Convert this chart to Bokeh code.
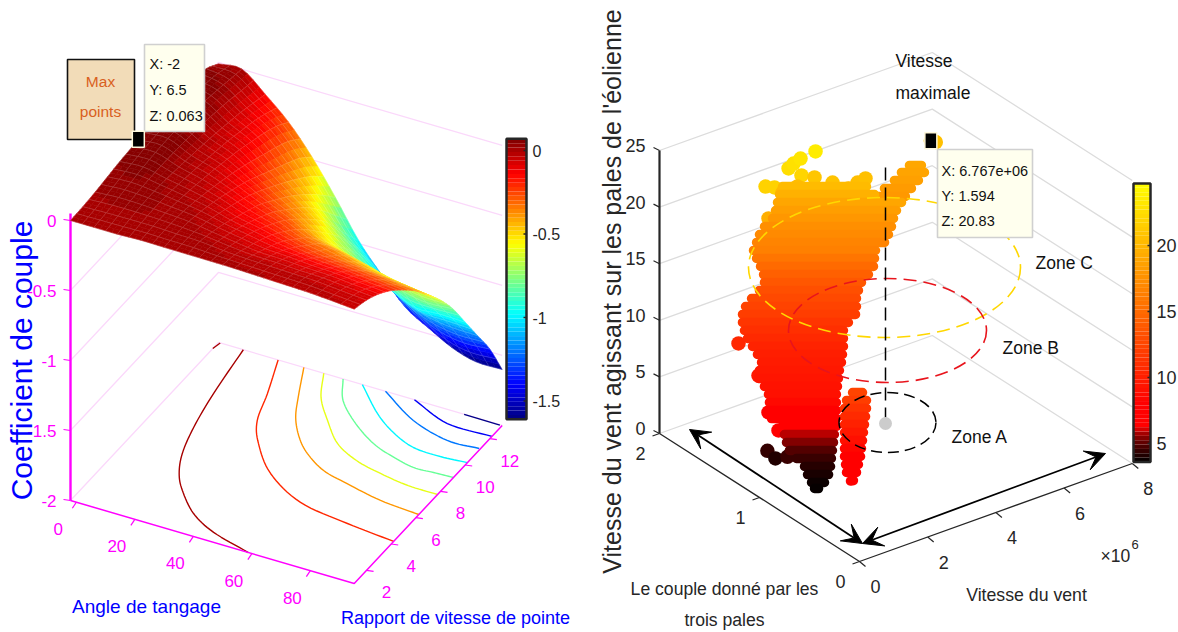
import numpy as np
from bokeh.plotting import figure
from bokeh.models import Range1d, Arrow, VeeHead
from bokeh.core.properties import value
from bokeh.embed import file_html
from bokeh.resources import INLINE

# ---------- left chart data ----------
SURF_X = [-2, 6, 14, 22, 30, 38, 46, 54, 62, 70, 78, 86, 95]      # angle de tangage
SURF_Y = [1, 2, 3, 4, 5, 6, 7, 8, 9, 10, 11, 12, 13]              # rapport de vitesse
SURF_Z_BY_X = [
    [0, .005, .015, .03, .045, .055, .063, .07, .075, .075, .07, .05, -.01],
    [0, .01, .025, .04, .055, .065, .07, .07, .065, .055, .04, .02, .002],
    [0, .012, .022, .025, .02, .01, -.002, -.015, -.03, -.05, -.07, -.1, -.13],
    [.006, .012, .012, .003, -.012, -.03, -.05, -.075, -.1, -.135, -.17, -.215, -.28],
    [.004, .006, 0, -.02, -.05, -.085, -.125, -.17, -.225, -.28, -.335, -.395, -.48],
    [.003, .001, -.025, -.06, -.105, -.15, -.2, -.27, -.34, -.42, -.51, -.61, -.72],
    [.002, -.015, -.05, -.09, -.14, -.2, -.27, -.355, -.45, -.555, -.69, -.84, -.98],
    [0, -.025, -.07, -.12, -.18, -.26, -.345, -.455, -.58, -.705, -.835, -.985, -1.18],
    [-.005, -.03, -.075, -.135, -.215, -.295, -.375, -.5, -.645, -.81, -.965, -1.135, -1.36],
    [-.01, -.035, -.085, -.15, -.23, -.32, -.42, -.54, -.71, -.9, -1.08, -1.26, -1.46],
    [-.015, -.04, -.09, -.16, -.245, -.34, -.46, -.585, -.77, -.98, -1.14, -1.34, -1.55],
    [-.025, -.055, -.105, -.175, -.26, -.36, -.48, -.615, -.8, -.975, -1.165, -1.37, -1.6],
    [-.04, -.07, -.12, -.19, -.28, -.38, -.505, -.635, -.79, -.98, -1.17, -1.36, -1.6],
]
CONTOUR_LEVELS = [0, 0, -.2, -.4, -.6, -.8, -1, -1.2, -1.4, -1.6]
CONTOUR_X = [
    [-2, -1.4],
    [6.5, 9.5, 12.7, 16.2, 20.4, 25.5, 34.3, 44.4, 58.8],
    [18.4, 24, 28.1, 34.1, 44.9, 60.2, 78.1, 95],
    [27.2, 32.8, 37.6, 43.6, 49.8, 58.4, 68, 81.2, 95],
    [34, 39.4, 46.9, 55.3, 64.7, 74.4, 84.9, 95],
    [40.6, 46.1, 55.2, 65, 73.3, 81.7, 88.4, 95],
    [47.2, 58.5, 67.6, 76.7, 86.2, 95],
    [55.1, 69.9, 84, 94.6],
    [65, 79.8, 95],
    [82, 94.3],
]
CONTOUR_Y = [
    [12.54, 13],
    [13, 9.87, 7.5, 5.75, 4.5, 3.55, 2.37, 1.6, 1],
    [13, 10.8, 9, 7.68, 6.1, 4.9, 4.46, 4.2],
    [13, 11.24, 9.87, 8.74, 7.93, 7.2, 6.83, 6.41, 6.24],
    [13, 11.5, 10.25, 9.06, 8.37, 8.02, 7.78, 7.76],
    [13, 11.7, 10.56, 9.68, 9.24, 8.95, 9, 9.05],
    [13, 11.54, 10.68, 10.14, 10.07, 10.18],
    [13, 11.75, 11.15, 11.23],
    [13, 12.16, 12.17],
    [13, 12.98],
]
L_X_TICKS = [0, 20, 40, 60, 80]
L_Y_TICKS = [2, 4, 6, 8, 10, 12]
L_Z_TICKS = [0, -.5, -1, -1.5, -2]
L_Z_LABELS = ["0", "-0.5", "-1", "-1.5", "-2"]
L_BAR_TICKS = [0, -.5, -1, -1.5]
L_BAR_LABELS = ["0", "-0.5", "-1", "-1.5"]
L_BAR_MIN, L_BAR_MAX = -1.61, .07

# ---------- right chart data ----------
# spans of the dense cloud: z level, then both ends (x in 1e6, y)
ROW_Z = [20.3, 19.6, 18.9, 18.4, 17.9, 17.4, 17.1, 16.7, 16.4, 15.7, 15.0, 14.3, 13.7, 13.2, 12.8, 12.4, 12.0, 11.5, 11.1,
         10.7, 10.3, 10.0, 9.8, 9.6, 9.4, 9.2, 9.1, 8.6, 8.0, 7.4, 6.9, 5.95, 5.4, 4.9, 4.5, 4.2, 4.0, 3.8, 3.7]
ROW_X0 = [2.816, 2.757, 2.719, 2.610, 2.487, 2.266, 2.037, 1.882, 1.689, 1.744, 1.816, 1.869, 1.852, 1.691, 1.438, 1.223, 1.067, .996, .931,
          .888, .879, .837, .746, .538, .351, .297, .169, .118, .083, .085, .224, .340, .328, .314, .346, .361, .247, .156, .068]
ROW_Y0 = [1.730, 1.740, 1.747, 1.730, 1.718, 1.723, 1.695, 1.671, 1.636, 1.624, 1.609, 1.597, 1.582, 1.577, 1.570, 1.557, 1.534, 1.510, 1.468,
          1.423, 1.370, 1.306, 1.234, 1.184, 1.130, 1.052, .968, .941, .929, .909, .847, .867, .842, .808, .749, .673, .604, .533, .473]
ROW_X1 = [4.393, 4.541, 5.048, 4.883, 4.760, 4.651, 4.460, 4.286, 3.980, 3.960, 3.938, 3.841, 3.674, 3.550, 3.410, 3.308, 3.189, 2.986, 2.791,
          2.691, 2.588, 2.434, 2.248, 2.040, 1.854, 1.668, 1.446, 1.376, 1.341, 1.306, 1.238, 1.279, 1.211, 1.122, 1.003, .849, .642, .400, .143]
ROW_Y1 = [1.428, 1.398, 1.301, 1.295, 1.283, 1.266, 1.231, 1.211, 1.197, 1.200, 1.203, 1.220, 1.233, 1.221, 1.193, 1.158, 1.127, 1.129, 1.112,
          1.078, 1.043, 1.000, .947, .896, .843, .789, .724, .700, .688, .676, .653, .687, .673, .653, .623, .579, .528, .486, .458]
ARM_Z = [19.0, 18.8, 18.5, 18.2, 18.0]
ARM_X0 = [6.251, 5.960, 5.693, 5.371, 5.069]
ARM_Y0 = [1.632, 1.613, 1.592, 1.582, 1.549]
ARM_X1 = [6.476, 6.392, 6.144, 5.878, 5.595]
ARM_Y1 = [1.589, 1.530, 1.506, 1.485, 1.449]
COL_Z = [12.5, 12.0, 11.4, 10.8, 10.2, 9.6, 9.0, 8.4, 7.9, 7.4, 7.0, 6.6]
COL_X0 = [.676, .496, .422, .384, .349, .314, .279, .243, .176, .124, .044, 0]
COL_Y0 = [.300, .299, .294, .281, .269, .257, .245, .233, .210, .182, .145, .090]
COL_X1 = [.863, .871, .836, .779, .725, .671, .617, .563, .477, .368, .232, .072]
COL_Y1 = [.264, .227, .215, .205, .197, .189, .180, .172, .152, .136, .109, .085]
# isolated points
PT_X = [1.998, 2.137, 2.694, 2.867, 3.077, 2.932, 3.400, 1.880, 3.449, 3.705, 4.274, 4.510, 3.065, 2.672, 4.028, 6.767, 6.90,
        .604, .372, .073, 0, .056, .083, .224]
PT_Y = [1.621, 1.579, 1.628, 1.637, 1.639, 1.580, 1.599, 1.551, 1.626, 1.533, 1.477, 1.478, 1.665, 1.681, 1.484, 1.594, 1.59,
        1.416, 1.137, .935, .810, .940, .869, .797]
PT_Z = [21.8, 21.8, 22.6, 22.8, 23.0, 22.0, 23.5, 19.5, 21.0, 20.8, 20.5, 20.6, 20.4, 20.2, 20.2, 20.83, 20.6,
        10.6, 9.6, 7.8, 7.0, 4.4, 4.1, 4.5]
R_X_TICKS = [0, 2, 4, 6, 8]
R_Y_TICKS = [0, 1, 2]
R_Z_TICKS = [0, 5, 10, 15, 20, 25]
R_BAR_TICKS = [5, 10, 15, 20]
R_BAR_MIN, R_BAR_MAX = 3.6, 24.7

SANS = "Liberation Sans"
MAG = "#ff00ff"
INK = "#262626"
BLUE = "#0000ff"
WALL_L = "#fbd8fb"
WALL_R = "#dcdcdc"

p = figure(width=1178, height=632, x_range=Range1d(0, 1178), y_range=Range1d(632, 0),
           output_backend="svg", toolbar_location=None, min_border=0)
p.xaxis.visible = False
p.yaxis.visible = False
p.xgrid.visible = False
p.ygrid.visible = False
p.outline_line_color = None


def label(x, y, t, size=18, color=INK, align="center", angle=0.0):
    p.text([x], [y], text=[t], text_font=value(SANS), text_font_size=f"{size}px", text_color=color,
           text_align=align, text_baseline="middle", angle=angle)


def spline(a, n):
    """Smooth curve drawing (Catmull-Rom) through read values along axis 0."""
    a = np.asarray(a, float)
    pad = np.concatenate([[2 * a[0] - a[1]], a, [2 * a[-1] - a[-2]]])
    out = []
    for i in range(len(a) - 1):
        p0, p1, p2, p3 = pad[i], pad[i + 1], pad[i + 2], pad[i + 3]
        for k in range(n):
            t = k / n
            out.append(.5 * (2 * p1 + (p2 - p0) * t + (2 * p0 - 5 * p1 + 4 * p2 - p3) * t * t
                             + (3 * p1 - p0 - 3 * p2 + p3) * t ** 3))
    out.append(a[-1])
    return np.array(out)


def jet(z):
    t = (np.clip(z, L_BAR_MIN, L_BAR_MAX) - L_BAR_MIN) / (L_BAR_MAX - L_BAR_MIN)
    t = (np.floor(t * 63.999) + .5) / 64
    r = np.clip(1.5 - abs(4 * t - 3), 0, 1)
    g = np.clip(1.5 - abs(4 * t - 2), 0, 1)
    b = np.clip(1.5 - abs(4 * t - 1), 0, 1)
    return "#%02x%02x%02x" % (int(r * 255), int(g * 255), int(b * 255))


def hot(z):
    if z < 6.2:
        return "#%02x0000" % int(np.interp(z, [3.6, 5, 6, 6.2], [0, 90, 190, 255]))
    if z < 8:
        return "#ff0000"
    return "#ff%02x00" % int(np.clip(255 * (z - 8) / 16.7, 0, 255))


def L3(x, y, z):
    x, y, z = np.asarray(x, float), np.asarray(y, float), np.asarray(z, float)
    return 70 + 2.925 * (x + 2) + 12.33 * (y - 1), 500 + .856 * (x + 2) - 13.17 * (y - 1) - 140 * (z + 2)


def R3(x, y, z):
    x, y, z = np.asarray(x, float), np.asarray(y, float), np.asarray(z, float)
    return 859 + 34.1 * x - 100 * y, 561 - 12.25 * x - 64 * y - 11.32 * z


XMIN, XMAX, YMIN, YMAX = -2, 95, 1, 13
# ---------- left: walls ----------
for z in L_Z_TICKS:
    a = L3([XMIN, XMIN, XMAX], [YMIN, YMAX, YMAX], [z, z, z])
    p.line(a[0], a[1], line_color=WALL_L, line_width=1.3)

# ---------- left: floor contours ----------
for lev, cx, cy in zip(CONTOUR_LEVELS, CONTOUR_X, CONTOUR_Y):
    if len(cx) > 2:
        pts = spline(np.column_stack([cx, cy]), 8)
        cx, cy = pts[:, 0], pts[:, 1]
    sx, sy = L3(cx, cy, np.full(len(cx), -2))
    p.line(sx, sy, line_color=jet(lev), line_width=1.4)

# ---------- left: axes ----------
a = L3([XMIN, XMIN, XMAX, XMAX], [YMIN, YMIN, YMIN, YMAX], [.05, -2, -2, -2])
p.line(a[0][:2], a[1][:2], line_color=MAG, line_width=2.4)
p.line(a[0][1:], a[1][1:], line_color=MAG, line_width=1.5)
for z, t in zip(L_Z_TICKS, L_Z_LABELS):
    sx, sy = L3(XMIN, YMIN, z)
    p.segment([sx], [sy], [sx - 7], [sy - 1], line_color=MAG, line_width=1.2)
    label(float(sx) - 14, float(sy), t, 17, MAG, align="right")
for v in L_X_TICKS:
    sx, sy = L3(v, YMIN, -2)
    p.segment([sx], [sy], [sx - 4], [sy + 6], line_color=MAG, line_width=1.2)
    label(float(sx) - 18, float(sy) + 27, str(v), 17, MAG)
for v in L_Y_TICKS:
    sx, sy = L3(XMAX, v, -2)
    p.segment([sx], [sy], [sx + 7], [sy + 1], line_color=MAG, line_width=1.2)
    label(float(sx) + 20, float(sy) + 22, str(v), 17, MAG)

# ---------- left: surface ----------
Zt = np.array(SURF_Z_BY_X, float)
SUB = 4
Zf = spline(spline(Zt, SUB).T, SUB).T        # shading of the read table
Xf = spline(np.array(SURF_X, float), SUB)
Yf = spline(np.array(SURF_Y, float), SUB)
Xg, Yg = np.meshgrid(Xf, Yf, indexing="ij")
Sx, Sy = L3(Xg, Yg, Zf)
nx, ny = Zf.shape
for j0 in range(ny - 3, -1, -2):
    xs, ys, cs = [], [], []
    for j in (j0 + 1, j0):
        for i in range(nx - 1):
            xs.append([Sx[i, j], Sx[i + 1, j], Sx[i + 1, j + 1], Sx[i, j + 1]])
            ys.append([Sy[i, j], Sy[i + 1, j], Sy[i + 1, j + 1], Sy[i, j + 1]])
            cs.append(jet(Zf[i:i + 2, j:j + 2].mean()))
    p.patches(xs, ys, fill_color=cs, line_color=cs, line_width=.6)
    mx, my = [], []
    mx.append(list(Sx[:, j0 + 2])); my.append(list(Sy[:, j0 + 2]))
    mx.append(list(Sx[:, j0])); my.append(list(Sy[:, j0]))
    for i in range(0, nx, 2):
        mx.append(list(Sx[i, j0:j0 + 3])); my.append(list(Sy[i, j0:j0 + 3]))
    p.multi_line(mx, my, line_color="#ffffff", line_alpha=.22, line_width=.6)

# ---------- left: colour bar ----------
lev = np.linspace(L_BAR_MIN, L_BAR_MAX, 65)
by = 150 - lev * 167
p.quad(left=506, right=526, top=by[1:], bottom=by[:-1],
       fill_color=[jet(v) for v in (lev[1:] + lev[:-1]) / 2], line_color=None)
p.quad(left=[506], right=[526], top=[150 - L_BAR_MAX * 167], bottom=[150 - L_BAR_MIN * 167],
       fill_color=None, line_color=INK, line_width=2.5)
for v, t in zip(L_BAR_TICKS, L_BAR_LABELS):
    yy = 150 - v * 167
    p.segment([523], [yy], [526], [yy], line_color=INK, line_width=1.5)
    label(532, yy, t, 16, INK, align="left")

# ---------- left: annotations ----------
p.quad(left=[67], right=[134], top=[59], bottom=[139], fill_color="#f2dcb8", line_color="#111111", line_width=1.6)
label(100, 81, "Max", 15.5, "#d9601e")
label(100, 111, "points", 15.5, "#d9601e")
p.quad(left=[144], right=[204], top=[44], bottom=[131], fill_color="#ffffee", line_color="#d0d0d0", line_width=1.6)
for yy, t in zip([63, 89, 115], ["X: -2", "Y: 6.5", "Z: 0.063"]):
    label(149, yy, t, 14.5, "#111111", align="left")
mx, my = L3(-2, 6.5, .063)
p.quad(left=[float(mx) - 6], right=[float(mx) + 6], top=[float(my) - 8], bottom=[float(my) + 8],
       fill_color="#000000", line_color="#fff8dc", line_width=1.5)
label(21, 360, "Coefficient de couple", 30, BLUE, angle=np.pi / 2)
label(146, 606, "Angle de tangage", 19, BLUE)
label(455, 617, "Rapport de vitesse de pointe", 18, BLUE)

# ---------- right: walls ----------
X8, Y2 = 8, 2
for z in R_Z_TICKS:
    a = R3([0, X8, X8], [Y2, Y2, 0], [z, z, z])
    p.line(a[0], a[1], line_color=WALL_R, line_width=1.3)

# ---------- right: axes ----------
a = R3([0, 0, 0, X8], [Y2, Y2, 0, 0], [25, 0, 0, 0])
p.line(a[0][:2], a[1][:2], line_color=INK, line_width=2.2)
p.line(a[0][1:], a[1][1:], line_color=INK, line_width=1.3)
for v in R_Z_TICKS:
    sx, sy = R3(0, Y2, v)
    p.segment([sx], [sy], [sx - 6], [sy - 3], line_color=INK, line_width=1.2)
    label(645, float(sy) - 5, str(v), 18, INK, align="right")
for v in R_Y_TICKS:
    sx, sy = R3(0, v, 0)
    p.segment([sx], [sy], [sx - 7], [sy + 2.5], line_color=INK, line_width=1.2)
    label(float(sx) - 19, float(sy) + 20, str(v), 18, INK)
for v in R_X_TICKS:
    sx, sy = R3(v, 0, 0)
    p.segment([sx], [sy], [sx + 6], [sy + 5], line_color=INK, line_width=1.2)
    label(float(sx) + 16, float(sy) + 25, str(v), 18, INK)

# ---------- right: cloud ----------
sx, sy = R3(PT_X, PT_Y, PT_Z)
p.scatter(sx, sy, size=14.5, fill_color=[hot(v) for v in PT_Z], line_color=None)
for zz, x0, y0, x1, y1 in ((ARM_Z, ARM_X0, ARM_Y0, ARM_X1, ARM_Y1),
                           (ROW_Z, ROW_X0, ROW_Y0, ROW_X1, ROW_Y1),
                           (COL_Z, COL_X0, COL_Y0, COL_X1, COL_Y1)):
    ax, ay = R3(x0, y0, zz)
    bx, by2 = R3(x1, y1, zz)
    p.multi_line([[u, w] for u, w in zip(ax, bx)], [[u, w] for u, w in zip(ay, by2)],
                 line_color=[hot(v) for v in zz], line_width=9.5, line_cap="round")

# ---------- right: zones and arrows ----------
p.ellipse([884], [267], width=[272], height=[140], fill_color=None, line_color="#ffd700", line_width=1.6, line_dash="13 7")
p.ellipse([887], [330], width=[198], height=[104], fill_color=None, line_color="#e8141c", line_width=1.6, line_dash="13 7")
p.ellipse([887], [422], width=[97], height=[60], fill_color=None, line_color="#000000", line_width=1.5, line_dash="11 6")
p.line([885, 885], [167, 423], line_color="#000000", line_width=1.5, line_dash="13 7")
p.scatter([885], [423], size=13, fill_color="#cccccc", line_color=None)
for xe, ye in ((689, 429), (1105, 453)):
    p.add_layout(Arrow(x_start=862, y_start=543, x_end=xe, y_end=ye, line_color="#000000", line_width=1.8,
                       start=VeeHead(size=20, fill_color="#000000", line_color="#000000"),
                       end=VeeHead(size=20, fill_color="#000000", line_color="#000000")))

# ---------- right: colour bar ----------
lev2 = np.linspace(R_BAR_MIN, R_BAR_MAX, 65)
by3 = 443 - (lev2 - 5) * 13.2
p.quad(left=1133, right=1150, top=by3[1:], bottom=by3[:-1],
       fill_color=[hot(v) for v in (lev2[1:] + lev2[:-1]) / 2], line_color=None)
p.quad(left=[1133], right=[1150], top=[by3[-1]], bottom=[by3[0]], fill_color=None, line_color=INK, line_width=2.5)
for v in R_BAR_TICKS:
    yy = 443 - (v - 5) * 13.2
    p.segment([1147], [yy], [1150], [yy], line_color=INK, line_width=1.5)
    label(1156, yy, str(v), 18, INK, align="left")

# ---------- right: annotations ----------
p.quad(left=[937], right=[1032], top=[149], bottom=[237], fill_color="#ffffee", line_color="#d0d0d0", line_width=1.6)
for yy, t in zip([170, 195, 220], ["X: 6.767e+06", "Y: 1.594", "Z: 20.83"]):
    label(941, yy, t, 14.5, "#111111", align="left")
mx, my = R3(6.767, 1.594, 20.83)
p.quad(left=[float(mx) - 6], right=[float(mx) + 6], top=[float(my) - 8], bottom=[float(my) + 8],
       fill_color="#000000", line_color="#fff8dc", line_width=1.5)
label(895, 60, "Vitesse", 17.5, "#111111", align="left")
label(895, 92, "maximale", 17.5, "#111111", align="left")
label(951, 436, "Zone A", 17.5, "#111111", align="left")
label(1002, 347, "Zone B", 17.5, "#111111", align="left")
label(1035, 262, "Zone C", 17.5, "#111111", align="left")
label(611, 291, "Vitesse du vent agissant sur les pales de l'éolienne", 25, INK, angle=np.pi / 2)
label(724, 588, "Le couple donné par les", 17.6, INK)
label(724, 619, "trois pales", 17.6, INK)
label(1026, 594, "Vitesse du vent", 17.7, INK)
label(1100, 555, "×10", 17.5, INK, align="left")
label(1131, 544, "6", 13, INK, align="left")

open("out.html", "w").write(file_html(p, INLINE))
